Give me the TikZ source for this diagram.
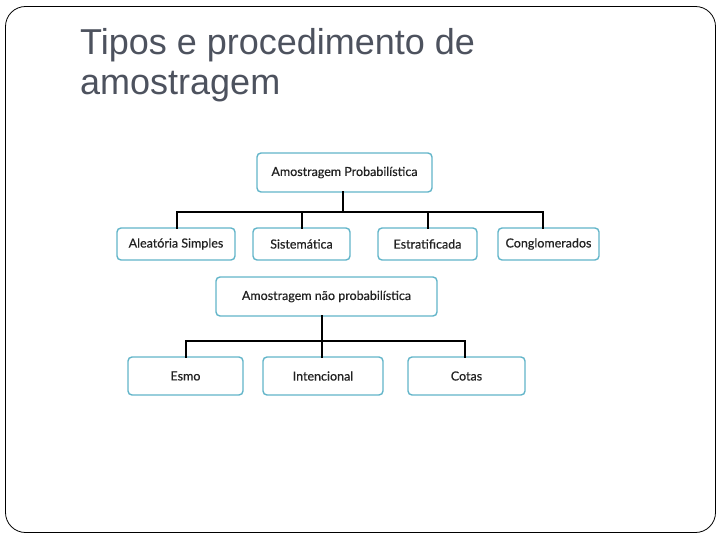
\documentclass[tikz,border=0pt]{standalone}
\usepackage{fontspec}
\setmainfont{Liberation Sans}
\newfontfamily\boxfont[FakeBold=0.4]{Lato}
\definecolor{titlegray}{HTML}{4D525E}
\definecolor{boxedge}{HTML}{62B5C9}
\definecolor{boxtext}{HTML}{222222}
\begin{document}
\begin{tikzpicture}[x=1pt,y=-1pt,
  box/.style={draw=boxedge, line width=1.4pt, rounded corners=4pt, fill=white,
    inner sep=0pt, font=\boxfont\fontsize{12.5}{14}\selectfont, text=boxtext},
  conn/.style={line width=2.7pt, black, line cap=rect},
  titletext/.style={anchor=base west, inner sep=0pt, text=titlegray,
    font=\fontsize{36}{40}\selectfont}]
\useasboundingbox (0,0) rectangle (720,540);
% frame
\draw[line width=0.8pt, rounded corners=20pt] (5.5,6.5) rectangle (715.5,532.5);
% title
\node[titletext] (t1) at (80,55) {Tipos e procedimento de};
\node[titletext] (t2) at (80,95) {amostragem};
% probabilistic tree
\node[box, minimum width=175pt, minimum height=39pt] (P) at (344.5,172.5) {Amostragem Probabilística};
\node[box, minimum width=118pt, minimum height=32pt] (A) at (176,244) {Aleatória Simples};
\node[box, minimum width=97pt, minimum height=32pt] (S) at (301.5,244) {Sistemática};
\node[box, minimum width=99pt, minimum height=32pt] (E) at (427.5,244) {Estratificada};
\node[box, minimum width=101pt, minimum height=32pt] (C) at (548.5,244) {Conglomerados};
\coordinate (pa) at (177,212);
\coordinate (ps) at (302,212);
\coordinate (pe) at (428,212);
\coordinate (pc) at (543,212);
\draw[conn] (P.south -| 343,0) -- (343,212);
\draw[conn] (pa) -- (pc);
\draw[conn] (pa) -- (pa |- A.north);
\draw[conn] (ps) -- (ps |- S.north);
\draw[conn] (pe) -- (pe |- E.north);
\draw[conn] (pc) -- (pc |- C.north);
% non-probabilistic tree
\node[box, minimum width=221pt, minimum height=39pt] (N) at (326.5,296.5) {Amostragem não probabilística};
\node[box, minimum width=115pt, minimum height=38pt] (M) at (185.5,376) {Esmo};
\node[box, minimum width=120pt, minimum height=38pt] (I) at (323,376) {Intencional};
\node[box, minimum width=117pt, minimum height=38pt] (K) at (466.5,376) {Cotas};
\coordinate (nm) at (186,341);
\coordinate (ni) at (322,341);
\coordinate (nk) at (465,341);
\draw[conn] (N.south -| ni) -- (ni);
\draw[conn] (nm) -- (nk);
\draw[conn] (nm) -- (nm |- M.north);
\draw[conn] (ni) -- (ni |- I.north);
\draw[conn] (nk) -- (nk |- K.north);
\end{tikzpicture}
\end{document}
